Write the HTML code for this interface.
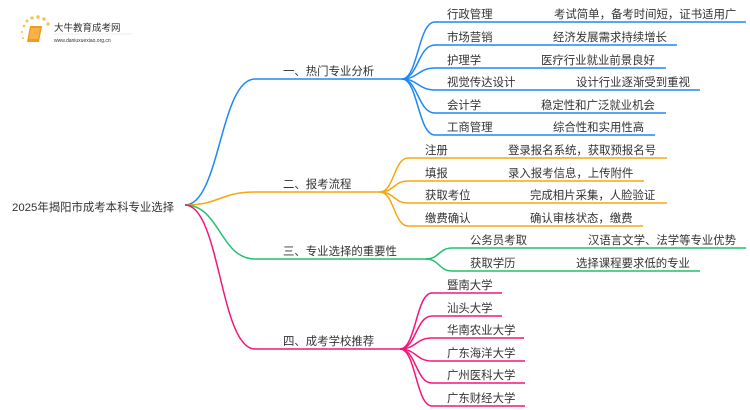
<!DOCTYPE html>
<html><head><meta charset="utf-8"><style>
html,body{margin:0;padding:0;background:#fff;width:750px;height:410px;overflow:hidden}
svg text{font-family:"Liberation Sans","Noto Sans CJK SC",sans-serif;fill:#333}
</style></head><body>
<svg width="750" height="410" viewBox="0 0 750 410" xmlns="http://www.w3.org/2000/svg">
<g>
<circle cx="24" cy="26" r="1.3" fill="#f6c04a"/><circle cx="27" cy="21" r="1.5" fill="#f6c04a"/><circle cx="32" cy="18" r="1.6" fill="#f6c04a"/><circle cx="38" cy="17" r="1.7" fill="#f6c04a"/><circle cx="44" cy="19" r="1.7" fill="#f6c04a"/><circle cx="48" cy="24" r="1.6" fill="#f6c04a"/><circle cx="22" cy="32" r="1" fill="#f6c04a"/><circle cx="23" cy="38" r="1" fill="#f6c04a"/>
<path d="M30 26 L42 26 L39 42 L27 42 Z" fill="#f29a1e"/>
<path d="M31 28 L40 28 L38 39 L29 39 Z" fill="#f7b347"/>
<text x="54" y="31" font-size="9.5" fill="#444">大牛教育成考网</text>
<line x1="54" y1="34" x2="132" y2="34" stroke="#ddd" stroke-width="0.6"/>
<text x="54" y="42" font-size="5" fill="#666">www.daniuxuexiao.org.cn</text>
</g>
<text x="12" y="211" font-size="11.4">2025年揭阳市成考本科专业选择</text>
<g fill="none" stroke-width="1.5">
<path d="M185 205 C220 205 220 79 255 79 L405 79" stroke="#1e88f5"/>
<path d="M185 205 C220 205 220 192 255 192 L382 192" stroke="#f5a70f"/>
<path d="M185 205 C220 205 220 259 255 259 L428 259" stroke="#1fc26e"/>
<path d="M185 205 C220 205 220 349 255 349 L402 349" stroke="#f5157a"/>
<g stroke="#1e88f5">
<path d="M402 79 C418 79 418 22 435 22 L746 22"/>
<path d="M402 79 C418 79 418 45 435 45 L677 45"/>
<path d="M402 79 C418 79 418 68 435 68 L666 68"/>
<path d="M402 79 C418 79 418 90 435 90 L700 90"/>
<path d="M402 79 C418 79 418 113 435 113 L666 113"/>
<path d="M402 79 C418 79 418 135 435 135 L655 135"/>
</g>
<g stroke="#f5a70f">
<path d="M380 192 C394 192 394 158 408 158 L667 158"/>
<path d="M380 192 C394 192 394 181 408 181 L644 181"/>
<path d="M380 192 C394 192 394 203 408 203 L667 203"/>
<path d="M380 192 C394 192 394 226 408 226 L643 226"/>
</g>
<g stroke="#1fc26e">
<path d="M426 259 C439 259 439 248 452 248 L746 248"/>
<path d="M426 259 C439 259 439 271 452 271 L700 271"/>
</g>
<g stroke="#f5157a">
<path d="M400 349 C416 349 416 293 432 293 L502 293"/>
<path d="M400 349 C416 349 416 316 432 316 L502 316"/>
<path d="M400 349 C416 349 416 338 432 338 L524 338"/>
<path d="M400 349 C416 349 416 361 432 361 L525 361"/>
<path d="M400 349 C416 349 416 383 432 383 L525 383"/>
<path d="M400 349 C416 349 416 406 432 406 L525 406"/>
</g>
</g>
<g font-size="11.4">
<text x="283" y="75">一、热门专业分析</text>
<text x="283" y="188">二、报考流程</text>
<text x="283" y="255">三、专业选择的重要性</text>
<text x="283" y="345">四、成考学校推荐</text>
<text x="447" y="18">行政管理</text><text x="554" y="18">考试简单，备考时间短，证书适用广</text>
<text x="447" y="41">市场营销</text><text x="553" y="41">经济发展需求持续增长</text>
<text x="447" y="64">护理学</text><text x="541" y="64">医疗行业就业前景良好</text>
<text x="447" y="86">视觉传达设计</text><text x="576" y="86">设计行业逐渐受到重视</text>
<text x="447" y="109">会计学</text><text x="541" y="109">稳定性和广泛就业机会</text>
<text x="447" y="131">工商管理</text><text x="553" y="131">综合性和实用性高</text>
<text x="425" y="154">注册</text><text x="508" y="154">登录报名系统，获取预报名号</text>
<text x="425" y="177">填报</text><text x="508" y="177">录入报考信息，上传附件</text>
<text x="425" y="199">获取考位</text><text x="530" y="199">完成相片采集，人脸验证</text>
<text x="425" y="222">缴费确认</text><text x="530" y="222">确认审核状态，缴费</text>
<text x="470" y="244">公务员考取</text><text x="588" y="244">汉语言文学、法学等专业优势</text>
<text x="470" y="267">获取学历</text><text x="576" y="267">选择课程要求低的专业</text>
<text x="447" y="289">暨南大学</text>
<text x="447" y="312">汕头大学</text>
<text x="447" y="334">华南农业大学</text>
<text x="447" y="357">广东海洋大学</text>
<text x="447" y="379">广州医科大学</text>
<text x="447" y="402">广东财经大学</text>
</g>
</svg>
</body></html>
